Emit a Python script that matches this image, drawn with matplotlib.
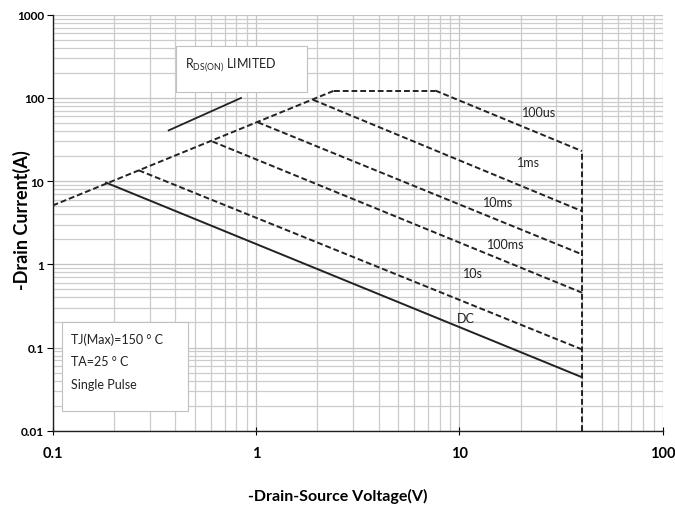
import numpy as np
import matplotlib.pyplot as plt
from matplotlib.ticker import LogLocator, NullFormatter, FixedLocator, FixedFormatter

plt.rcParams['font.family'] = ['Lato', 'DejaVu Sans']

# SOA data (V, A)
v_max = 40.0
rds_v = [0.1, 2.43]          # R_DS(on) limit, ends where the current limit starts
rds_i = [5.1, 123.0]
ilim_v = [2.43, 7.6]
ilim_i = [123.0, 123.0]
p100us_v = [7.6, 40.0]
p100us_i = [123.0, 23.0]

pulse_names = ['1ms', '10ms', '100ms', '10s']
pulse_v0 = [1.91, 1.02, 0.61, 0.265]
pulse_i0 = [95.0, 51.0, 30.0, 13.5]
pulse_i1 = [4.37, 1.32, 0.457, 0.095]

dc_v = [0.183, 40.0]
dc_i = [9.6, 0.044]

label_text = ['100us', '1ms', '10ms', '100ms', '10s', 'DC']
label_v = [24.7, 21.9, 15.5, 16.8, 11.6, 10.7]
label_i = [67.7, 16.9, 5.6, 1.74, 0.78, 0.229]

rds_mark_v = [0.372, 0.843]
rds_mark_i = [40.8, 100.0]

fig = plt.figure(figsize=(6.75, 5.1), dpi=100)
ax = fig.add_axes([0.078, 0.1535, 0.904, 0.8155])
ax.set_xscale('log')
ax.set_yscale('log')
ax.set_xlim(0.1, 100)
ax.set_ylim(0.01, 1000)

ax.xaxis.set_minor_locator(LogLocator(base=10, subs=np.arange(2, 10)))
ax.yaxis.set_minor_locator(LogLocator(base=10, subs=np.arange(2, 10)))
ax.xaxis.set_minor_formatter(NullFormatter())
ax.yaxis.set_minor_formatter(NullFormatter())
xt = [0.1, 1, 10, 100]
yt = [0.01, 0.1, 1, 10, 100, 1000]
ax.xaxis.set_major_locator(FixedLocator(xt))
ax.xaxis.set_major_formatter(FixedFormatter(['0.1', '1', '10', '100']))
ax.yaxis.set_major_locator(FixedLocator(yt))
ax.yaxis.set_major_formatter(FixedFormatter(['0.01', '0.1', '1', '10', '100', '1000']))

ax.grid(True, which='major', color='#c4c4c4', linewidth=0.9)
ax.grid(True, which='minor', color='#cccccc', linewidth=0.9)
ax.set_axisbelow(True)
for s in ['top', 'right']:
    ax.spines[s].set_visible(False)
for s in ['left', 'bottom']:
    ax.spines[s].set_color('#202020')
    ax.spines[s].set_linewidth(1.0)
ax.tick_params(which='minor', length=0)
ax.tick_params(axis='x', which='major', direction='inout', length=6, pad=8,
               labelsize=10.5)
ax.tick_params(axis='y', which='major', direction='out', length=4, pad=2,
               labelsize=8.5)
for lab in ax.get_xticklabels() + ax.get_yticklabels():
    lab.set_fontweight('bold')

dash = dict(color='#222222', linewidth=1.4, linestyle=(0, (3, 1.5)))
ax.plot(rds_v, rds_i, **dash)
ax.plot(ilim_v, ilim_i, **dash)
ax.plot(p100us_v, p100us_i, **dash)
for v0, i0, i1 in zip(pulse_v0, pulse_i0, pulse_i1):
    ax.plot([v0, v_max], [i0, i1], **dash)
ax.plot([v_max, v_max], [0.01, p100us_i[-1]], **dash)
ax.plot(dc_v, dc_i, color='#222222', linewidth=1.4)
ax.plot(rds_mark_v, rds_mark_i, color='#222222', linewidth=1.3)

for t, v, i in zip(label_text, label_v, label_i):
    ax.text(v, i, t, fontsize=9, ha='center', va='center', color='#222222')

# R_DS(on) box
fig.patches.append(plt.Rectangle((176 / 675, 1 - 93 / 510), 131 / 675, 46 / 510,
                                 transform=fig.transFigure, facecolor='white',
                                 edgecolor='#c0c0c0', linewidth=0.8, zorder=5))
fig.text(185 / 675, 1 - 65 / 510, r'R$_{\mathregular{DS(ON)}}$ LIMITED', fontsize=9,
         ha='left', va='center', color='#222222', zorder=6)

# note box
fig.patches.append(plt.Rectangle((61.7 / 675, 1 - 412.3 / 510), 126.6 / 675, 89.6 / 510,
                                 transform=fig.transFigure, facecolor='white',
                                 edgecolor='#c0c0c0', linewidth=0.8, zorder=5))
for t, y in zip(['TJ(Max)=150 ° C', 'TA=25 ° C', 'Single Pulse'], [339.3, 362.3, 385]):
    fig.text(70.7 / 675, 1 - y / 510, t, fontsize=9, ha='left', va='center',
             color='#222222', zorder=6)

fig.text(22 / 675, 1 - 220 / 510, '-Drain Current(A)', rotation=90, fontsize=13,
         fontweight='bold', ha='center', va='center')
fig.text(338 / 675, 1 - 496 / 510, '-Drain-Source Voltage(V)', fontsize=11.5,
         fontweight='bold', ha='center', va='center')

fig.savefig('out.png', dpi=100)
